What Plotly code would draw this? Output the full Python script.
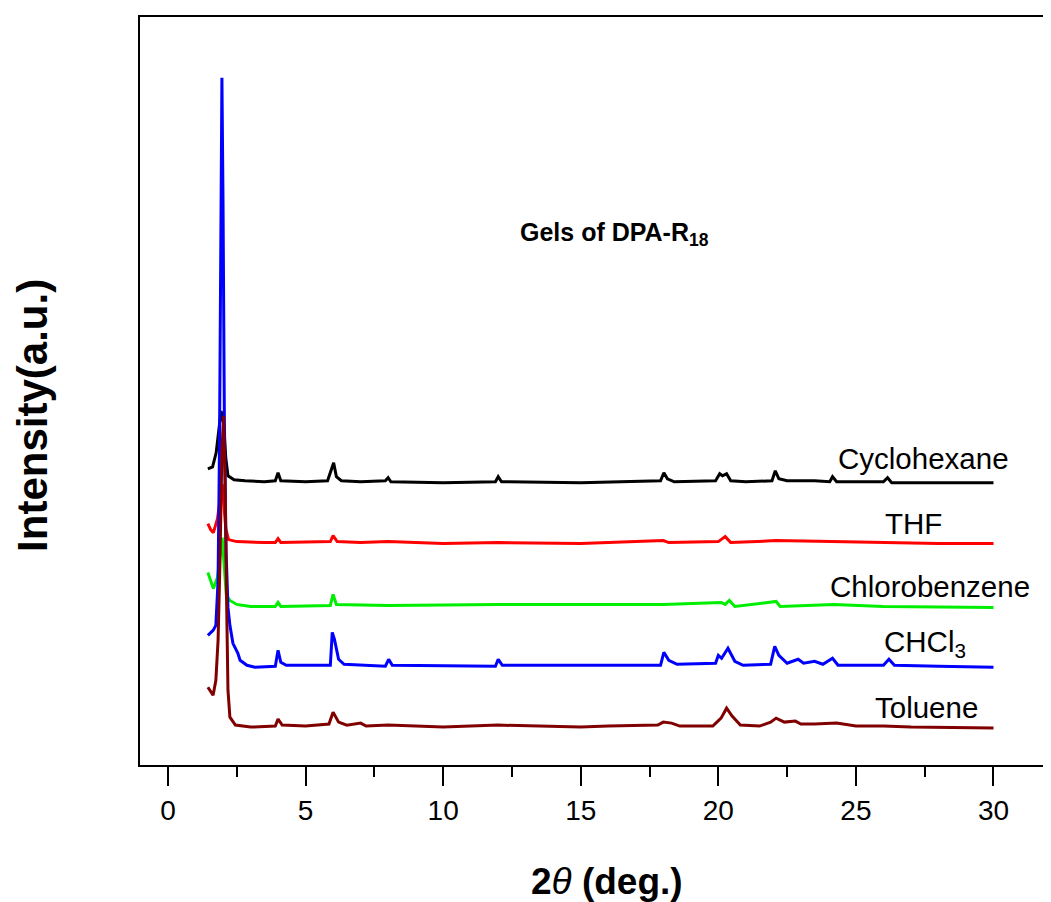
import plotly.graph_objects as go

# ---- data (2theta in degrees, intensity in a.u. above each trace's baseline) ----
names = ["Cyclohexane", "THF", "Chlorobenzene", "CHCl<sub>3</sub>", "Toluene"]
colors = ["#000000", "#ff0000", "#00ee00", "#0000ff", "#800000"]
offsets = [283, 222, 158, 98, 37]

cyclo_x = [1.45, 1.62, 1.75, 1.85, 1.93, 2.02, 2.1, 2.18, 2.4, 2.8, 3.5, 3.9, 4.0, 4.1, 5.0, 5.8, 5.95, 6.02,
           6.12, 6.3, 7.0, 7.9, 8.0, 8.1, 10.0, 11.9, 12.0, 12.12, 15.0, 17.9, 18.02, 18.15, 18.4, 19.9, 20.05,
           20.15, 20.3, 20.45, 21.0, 21.95, 22.07, 22.2, 22.5, 23.5, 24.05, 24.15, 24.3, 26.0, 26.15, 26.3, 28.0, 30.0]
cyclo_y = [14, 16, 30, 52, 72, 60, 25, 7, 3, 2, 1, 2, 10, 2, 1, 2, 15, 20,
           6, 2, 1, 2, 5, 1, 0, 1, 6, 1, 0, 2, 10, 4, 1, 2, 9,
           7, 9, 2, 1, 2, 12, 4, 2, 2, 1, 6, 1, 1, 5, 0, 0, 0]

thf_x = [1.45, 1.55, 1.65, 1.8, 1.97, 2.1, 2.2, 2.5, 3.5, 3.9, 4.0, 4.1, 5.9, 6.0, 6.15, 7.0, 8.0, 10.0, 12.0,
         15.0, 18.0, 18.2, 20.0, 20.25, 20.45, 22.1, 24.1, 26.0, 28.0, 30.0]
thf_y = [20, 14, 11, 25, 60, 15, 4, 2, 1, 1, 5, 1, 2, 8, 2, 1, 2, 0, 1,
         0, 3, 1, 2, 7, 1, 3, 2, 1, 0, 0]

chloro_x = [1.45, 1.55, 1.65, 1.8, 1.97, 2.12, 2.25, 2.5, 3.0, 3.9, 4.0, 4.1, 5.9, 6.0, 6.12, 8.0, 12.0, 18.0,
            20.1, 20.25, 20.4, 20.6, 22.1, 22.25, 24.2, 26.0, 30.0]
chloro_y = [35, 27, 19, 30, 70, 12, 7, 3, 1, 1, 5, 1, 2, 13, 3, 2, 3, 3,
            5, 3, 7, 1, 6, 1, 3, 1, 0]

chcl3_x = [1.45, 1.64, 1.74, 1.82, 1.87, 1.93, 1.96, 2.0, 2.05, 2.11, 2.18, 2.25, 2.36, 2.54, 2.62, 2.87, 3.16,
           3.9, 4.0, 4.1, 4.3, 5.9, 5.97, 6.05, 6.2, 6.4, 7.9, 8.02, 8.15, 11.9, 12.0, 12.15, 17.9, 18.02, 18.2,
           18.5, 19.9, 20.0, 20.12, 20.35, 20.6, 20.9, 21.9, 22.05, 22.2, 22.5, 22.9, 23.1, 23.5, 23.8, 24.15,
           24.35, 26.0, 26.2, 26.4, 28.0, 30.0]
chcl3_y = [32, 37, 42, 87, 217, 467, 591, 467, 247, 117, 60, 42, 24, 14, 7, 2, 0,
           1, 17, 5, 2, 2, 35, 28, 8, 3, 1, 8, 2, 1, 8, 2, 2, 15, 7,
           3, 4, 12, 9, 19, 6, 2, 3, 21, 12, 4, 8, 4, 6, 3, 9,
           2, 2, 8, 2, 1, 0]

tol_x = [1.45, 1.64, 1.74, 1.82, 1.89, 1.96, 2.02, 2.07, 2.13, 2.18, 2.25, 2.45, 3.0, 3.9, 4.0, 4.15, 5.0, 5.85,
         6.0, 6.2, 6.5, 7.0, 7.2, 8.0, 10.0, 12.0, 15.0, 16.0, 17.8, 18.0, 18.3, 18.6, 19.8, 20.1, 20.3, 20.5,
         20.8, 21.5, 21.9, 22.1, 22.4, 22.8, 23.0, 23.5, 24.3, 25.0, 26.0, 27.0, 30.0]
tol_y = [41, 33, 48, 88, 168, 278, 313, 258, 128, 38, 11, 3, 1, 2, 9, 3, 2, 4,
         16, 6, 3, 5, 2, 3, 1, 3, 1, 2, 3, 6, 5, 2, 2, 10, 20, 12,
         3, 2, 6, 10, 6, 7, 4, 4, 5, 2, 2, 1, 0]

series_x = [cyclo_x, thf_x, chloro_x, chcl3_x, tol_x]
series_y = [cyclo_y, thf_y, chloro_y, chcl3_y, tol_y]

# label positions (2theta, a.u.)
label_x = [27.47, 27.1, 27.69, 27.5, 27.56]
label_y = [307, 242, 179, 122, 58]

fig = go.Figure()
for xs, ys, off, col, nm in zip(series_x, series_y, offsets, colors, names):
    fig.add_trace(go.Scatter(x=xs, y=[v + off for v in ys], mode="lines",
                             line=dict(color=col, width=3), name=nm, showlegend=False))

FONT = "Liberation Sans, Arial, sans-serif"
for nm, lx, ly in zip(names, label_x, label_y):
    fig.add_annotation(x=lx, y=ly, xref="x", yref="y", text=nm, showarrow=False,
                       font=dict(family=FONT, size=29.5, color="black"), xanchor="center", yanchor="middle")

fig.add_annotation(x=12.72, y=532, xref="x", yref="y", text="<b>Gels of DPA-R<sub>18</sub></b>",
                   showarrow=False, font=dict(family=FONT, size=25, color="black"),
                   xanchor="left", yanchor="middle")

fig.add_annotation(x=0.5126, y=-0.156, xref="paper", yref="paper",
                   text="<b>2</b><i>θ</i><b> (deg.)</b>", showarrow=False,
                   font=dict(family=FONT, size=37, color="black"), xanchor="center", yanchor="middle")
fig.add_annotation(x=-0.1175, y=0.468, xref="paper", yref="paper",
                   text="<b>Intensity(a.u.)</b>", showarrow=False, textangle=-90,
                   font=dict(family=FONT, size=42, color="black"), xanchor="center", yanchor="middle")

fig.update_layout(
    width=1051, height=902,
    margin=dict(l=132, r=8, t=7, b=145),
    paper_bgcolor="white", plot_bgcolor="white",
    font=dict(family=FONT, color="black"),
    xaxis=dict(range=[-1.017, 32.09], showgrid=False, zeroline=False,
               showline=True, linecolor="black", linewidth=2, mirror=True,
               ticks="outside", ticklen=19, tickwidth=2, tickcolor="black",
               tick0=0, dtick=5, tickfont=dict(size=28, family=FONT, color="black"),
               minor=dict(ticks="outside", ticklen=10, tickwidth=2, tickcolor="black", dtick=2.5, tick0=0)),
    yaxis=dict(range=[0, 750], showgrid=False, zeroline=False, showline=True,
               linecolor="black", linewidth=2, showticklabels=False, ticks=""),
)

fig.write_html("out.html")
